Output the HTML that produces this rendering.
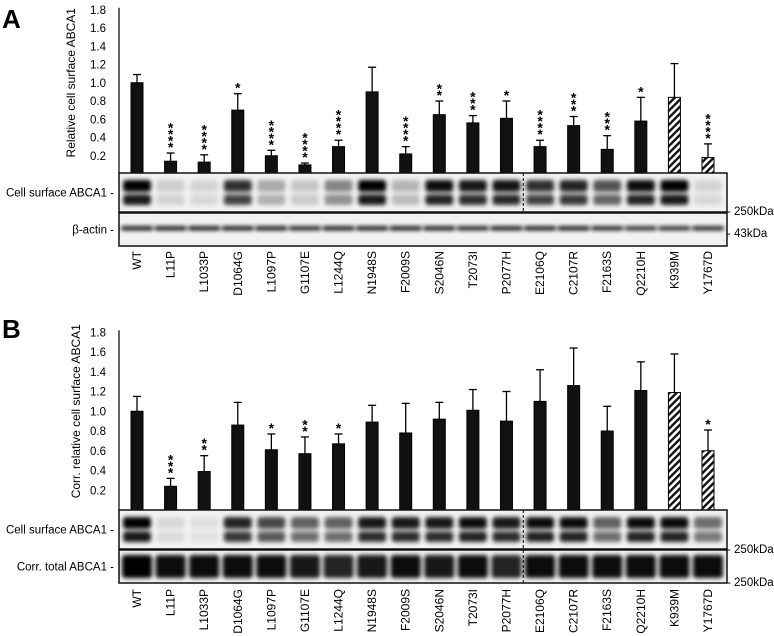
<!DOCTYPE html>
<html><head><meta charset="utf-8"><style>
body{margin:0;background:#fff}
svg{display:block;font-family:"Liberation Sans",Arial,sans-serif}
</style></head><body>
<svg id="fig" width="774" height="636" viewBox="0 0 774 636" xmlns="http://www.w3.org/2000/svg">
<defs>
<filter id="blur" x="-50%" y="-100%" width="200%" height="300%"><feGaussianBlur stdDeviation="2"/></filter>
<pattern id="hatch" width="5" height="5" patternUnits="userSpaceOnUse" patternTransform="rotate(45)">
<rect width="5" height="5" fill="#fff"/><rect width="2.4" height="5" fill="#111"/></pattern>
</defs>
<text x="2" y="28" font-size="26" font-weight="bold">A</text>
<text x="2" y="338" font-size="26" font-weight="bold">B</text>
<g id="root"></g>
</svg>
<script>
const categories=["WT","L11P","L1033P","D1064G","L1097P","G1107E","L1244Q","N1948S","F2009S","S2046N","T2073I","P2077H","E2106Q","C2107R","F2163S","Q2210H","K939M","Y1767D"];
const hatched=[16,17];
const valuesA=[1.0,0.14,0.13,0.70,0.20,0.10,0.30,0.90,0.22,0.65,0.56,0.61,0.30,0.53,0.27,0.58,0.84,0.18];
const errA=[1.09,0.23,0.21,0.88,0.26,0.12,0.37,1.17,0.30,0.80,0.64,0.80,0.37,0.63,0.42,0.84,1.21,0.33];
const starsA=["","****","****","*","****","****","****","","****","**","***","*","****","***","***","*","","****"];
const valuesB=[1.0,0.24,0.39,0.86,0.61,0.57,0.67,0.89,0.78,0.92,1.01,0.90,1.10,1.26,0.80,1.21,1.19,0.60];
const errB=[1.15,0.32,0.55,1.09,0.77,0.74,0.77,1.06,1.08,1.09,1.22,1.20,1.42,1.64,1.05,1.50,1.58,0.81];
const starsB=["","***","**","","*","**","*","","","","","","","","","","","*"];
const yTicks=[0.2,0.4,0.6,0.8,1.0,1.2,1.4,1.6,1.8];
const bandsA1=[1,0.15,0.12,0.8,0.3,0.18,0.45,1,0.25,0.95,0.9,0.92,0.8,0.85,0.65,0.95,1,0.12];
const bandsA2=[1,1,1,1,1,0.95,1,1,1,1,0.95,1,1,1,0.95,0.9,0.9,0.95];
const bandsB1=[1,0.1,0.08,0.85,0.7,0.6,0.6,0.9,0.9,0.9,0.95,0.9,0.95,0.95,0.6,0.95,0.95,0.55];
const bandsB2=[1,0.95,0.95,0.95,0.95,0.9,0.85,0.9,0.95,0.9,0.95,0.85,0.95,0.95,0.95,0.95,0.95,0.95];

const NS="http://www.w3.org/2000/svg";
const root=document.getElementById('root');
function mk(tag,attrs,parent){const e=document.createElementNS(NS,tag);for(const k in attrs)e.setAttribute(k,attrs[k]);(parent||root).appendChild(e);return e;}
const x0=137,step=(708-137)/17,bw=12;
const xPos=i=>x0+i*step;
const dashX=(xPos(11)+xPos(12))/2;

function panel(p){
  const g=mk('g',{});
  
  
  const y=v=>p.zero-v*p.unit;
  mk('line',{x1:119,x2:119,y1:y(1.8)-2,y2:p.zero,stroke:'#000','stroke-width':1.2},g);
  yTicks.forEach(t=>{const tx=mk('text',{x:106,y:y(t)+4,'font-size':11.5,'text-anchor':'end'},g);tx.textContent=t.toFixed(1);
    
    });
  const yt=mk('text',{x:0,y:0,'font-size':12,'text-anchor':'middle',transform:`translate(${p.ytX},${y(1.0)}) rotate(-90)`},g);
  yt.textContent=p.ytitle;
  
  
  categories.forEach((c,i)=>{
    const cx=xPos(i),v=p.vals[i],e=p.err[i];
    mk('line',{x1:cx,x2:cx,y1:y(e),y2:y(v),stroke:'#000','stroke-width':1.3},g);
    mk('line',{x1:cx-4,x2:cx+4,y1:y(e),y2:y(e),stroke:'#000','stroke-width':1.3},g);
    const b=mk('rect',{x:cx-bw/2,y:y(v),width:bw,height:v*p.unit,fill:hatched.includes(i)?'url(#hatch)':'#111',stroke:'#000','stroke-width':1},g);
    
    
    const s=p.stars[i];
    for(let k=0;k<s.length;k++){const st=mk('text',{x:cx,y:y(e)-1-k*6.5,'font-size':14,'font-weight':'bold','text-anchor':'middle'},g);st.textContent='*';
      
      }
  });
  const boxes=[[p.b1y,p.b1h,p.band1,p.lab1,p.mw1,p.mw1y,true],[p.b2y,p.b2h,p.band2,p.lab2,p.mw2,p.mw2y,false]];
  boxes.forEach(([by,bh,band,lab,mw,mwy,dbl],bi)=>{
    const bg=mk('g',{},g);
    
    
    mk('rect',{x:119,y:by,width:608,height:bh,fill:'#f2f2f2',stroke:'#111','stroke-width':1.5},bg);
    const cl=mk('g',{filter:'url(#blur)'},bg);
    categories.forEach((c,i)=>{
      const cx=xPos(i),a=band[i];
      if(dbl){
        mk('rect',{x:cx-14,y:by+bh*0.18,width:28,height:bh*0.3,fill:'#000','fill-opacity':a,rx:3},cl);
        mk('rect',{x:cx-14,y:by+bh*0.55,width:28,height:bh*0.27,fill:'#000','fill-opacity':a*0.9,rx:3},cl);
      } else if(p.thin){
        mk('rect',{x:cx-16,y:by+bh*0.4,width:32,height:4,fill:'#000','fill-opacity':a,rx:2},cl);
      } else {
        mk('rect',{x:cx-15,y:by+bh*0.15,width:30,height:bh*0.7,fill:'#000','fill-opacity':a,rx:3},cl);
      }
    });
    const lt=mk('text',{x:114,y:by+bh/2+4,'font-size':11.5,'text-anchor':'end'},bg);lt.textContent=lab+' -';
    
    
    const m=mk('text',{x:727,y:mwy,'font-size':11.5},bg);m.textContent='- '+mw;
    
    
  });
  mk('line',{x1:dashX,x2:dashX,y1:p.b1y,y2:p.dashEnd,stroke:'#000','stroke-width':1,'stroke-dasharray':'3,2'},g);
  categories.forEach((c,i)=>{
    const t=mk('text',{x:0,y:0,'font-size':12,'text-anchor':'end',transform:`translate(${xPos(i)+4},${p.labY}) rotate(-90)`},g);
    t.textContent=c;
    
    
  });
}
panel({name:'panel-a',zero:174,unit:91.25,vals:valuesA,err:errA,stars:starsA,ytitle:'Relative cell surface ABCA1',ytX:75,
  b1y:173,b1h:39,b2y:213,b2h:33,band1:bandsA1,band2:bandsA2,lab1:'Cell surface ABCA1',lab2:'β-actin',mw1:'250kDa',mw2:'43kDa',mw1y:215,mw2y:237,thin:true,dashEnd:212,labY:251});
panel({name:'panel-b',zero:510,unit:98.75,vals:valuesB,err:errB,stars:starsB,ytitle:'Corr. relative cell surface ABCA1',ytX:80,
  b1y:510,b1h:39,b2y:550,b2h:33,band1:bandsB1,band2:bandsB2,lab1:'Cell surface ABCA1',lab2:'Corr. total ABCA1',mw1:'250kDa',mw2:'250kDa',mw1y:553,mw2y:586,thin:false,dashEnd:583,labY:589});
</script>
</body></html>
